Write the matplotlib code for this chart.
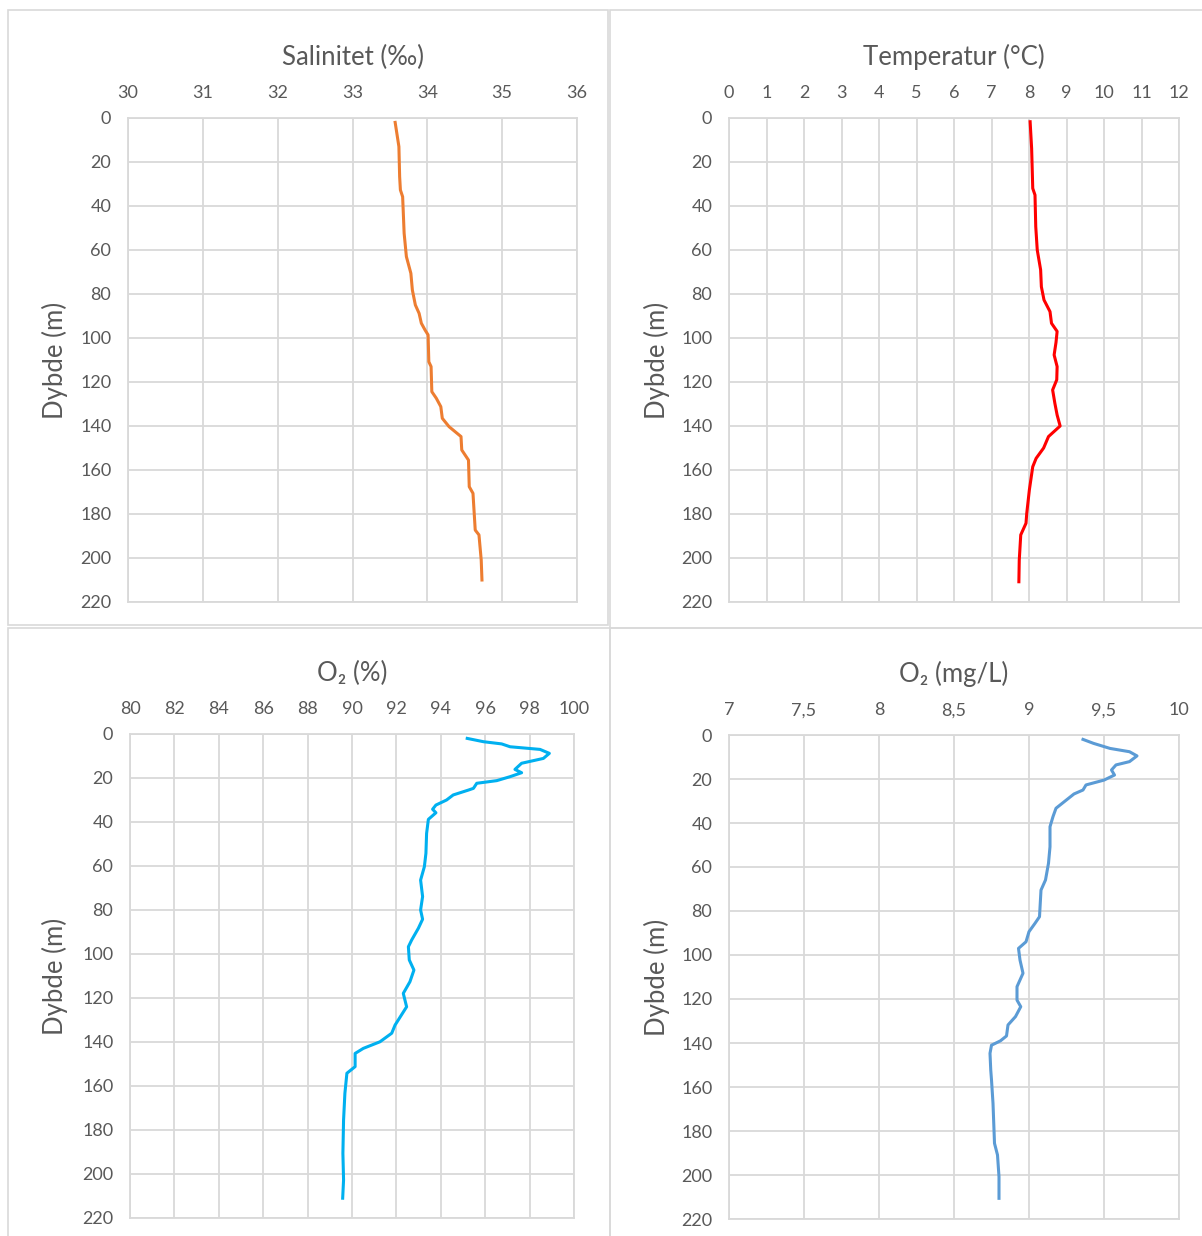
import matplotlib.pyplot as plt
from matplotlib.patches import Rectangle

plt.rcParams['font.family'] = ['Lato', 'DejaVu Sans']

# Salinitet (promille)
sal_depth = [2, 13, 26.7, 32.7, 35.8, 52.4, 63, 70.6, 78.2, 85, 88.8, 93.3, 96.4, 98.6,
             110.8, 113, 124.4, 127.4, 131.2, 136.5, 140.3, 144.8, 150.9, 155.5, 167.6,
             170.6, 187.3, 189.5, 200.9, 210]
sal_val = [33.57, 33.62, 33.63, 33.64, 33.67, 33.69, 33.72, 33.78, 33.80, 33.84, 33.89,
           33.92, 33.97, 34.01, 34.02, 34.05, 34.06, 34.12, 34.18, 34.20, 34.29, 34.45,
           34.46, 34.55, 34.56, 34.61, 34.64, 34.69, 34.72, 34.73]

# Temperatur (grader C)
temp_depth = [1.7, 13.8, 32, 35, 49.4, 60, 69, 76.7, 82.7, 88, 93.3, 97, 102, 107.7, 113,
              119, 123.6, 129.7, 135, 140, 144.8, 150, 154.7, 158.5, 169, 179.7, 184.2,
              189.5, 201, 210.8]
temp_val = [8.03, 8.07, 8.10, 8.16, 8.18, 8.22, 8.31, 8.33, 8.40, 8.56, 8.60, 8.75, 8.72,
            8.67, 8.75, 8.74, 8.63, 8.69, 8.75, 8.83, 8.52, 8.39, 8.19, 8.10, 8.01, 7.94,
            7.92, 7.78, 7.74, 7.73]

# O2 metning (%)
o2p_depth = [2, 3.5, 4.5, 5.8, 7, 8.8, 11.1, 13.3, 16.1, 17.6, 19.4, 21.2, 22.4, 24.7, 25.5,
             27.7, 30, 32.3, 34.2, 35.8, 38.8, 45.2, 54.2, 60.3, 66.4, 73.9, 80, 84.2, 88.3,
             93.6, 96.7, 102.7, 107.3, 112.6, 117.9, 124, 132.3, 136, 139.9, 142.9, 145.2,
             151.2, 154.2, 163.3, 175.5, 190.6, 202.7, 211]
o2p_val = [95.19, 95.92, 96.74, 97.12, 98.47, 98.89, 98.62, 97.64, 97.34, 97.64, 97.12,
           96.52, 95.62, 95.47, 95.24, 94.56, 94.26, 93.78, 93.63, 93.78, 93.44, 93.36,
           93.33, 93.26, 93.09, 93.18, 93.09, 93.18, 92.99, 92.69, 92.54, 92.58, 92.79,
           92.61, 92.31, 92.46, 91.94, 91.79, 91.26, 90.51, 90.14, 90.14, 89.77, 89.68,
           89.62, 89.59, 89.62, 89.58]

# O2 (mg/L)
o2m_depth = [2, 3.8, 6.1, 7.6, 9.5, 12.1, 13.6, 15.9, 18.2, 20.5, 22.7, 25, 26.8, 29.5,
             33.3, 37.1, 41.7, 50.8, 58.3, 65.9, 70.5, 82.6, 85.6, 89.4, 94, 97, 102.3,
             108.3, 114.4, 120.5, 123.5, 128, 131.8, 136.8, 139, 141, 144.7, 152.3, 156.8,
             167.4, 185.6, 190.9, 200.8, 210.6]
o2m_val = [9.36, 9.43, 9.54, 9.67, 9.72, 9.67, 9.58, 9.55, 9.57, 9.50, 9.38, 9.36, 9.30,
           9.25, 9.18, 9.16, 9.14, 9.14, 9.13, 9.11, 9.08, 9.07, 9.04, 9.00, 8.98, 8.93,
           8.94, 8.96, 8.92, 8.92, 8.945, 8.91, 8.86, 8.85, 8.81, 8.75, 8.74, 8.745, 8.75,
           8.76, 8.77, 8.79, 8.80, 8.80]

depth_ticks = list(range(0, 221, 20))

panels = [
    # title, depth, values, colour, xticks, xticklabels
    ('Salinitet (‰)', sal_depth, sal_val, '#ED7D31',
     [30, 31, 32, 33, 34, 35, 36], ['30', '31', '32', '33', '34', '35', '36']),
    ('Temperatur (°C)', temp_depth, temp_val, '#FF0000',
     list(range(0, 13)), [str(i) for i in range(0, 13)]),
    ('O₂ (%)', o2p_depth, o2p_val, '#00B0F0',
     list(range(80, 101, 2)), [str(i) for i in range(80, 101, 2)]),
    ('O₂ (mg/L)', o2m_depth, o2m_val, '#5B9BD5',
     [7, 7.5, 8, 8.5, 9, 9.5, 10], ['7', '7,5', '8', '8,5', '9', '9,5', '10']),
]

W, H = 1202, 1236
fig = plt.figure(figsize=(W / 100, H / 100), dpi=100)

# plot area boxes in pixels: left, top, right, bottom
boxes = [(128, 118, 577, 602), (729, 118, 1179, 602),
         (130, 734, 574, 1218), (729, 735, 1179, 1219)]
# chart borders in pixels
frames = [(8, 10, 608, 625), (610, 10, 1210, 628),
          (8, 628, 610, 1245), (610, 628, 1210, 1245)]

grey = '#595959'
gridc = '#D9D9D9'

for (l, t, r, b) in frames:
    fig.patches.append(Rectangle((l / W, 1 - b / H), (r - l) / W, (b - t) / H,
                                 transform=fig.transFigure, fill=False,
                                 edgecolor='#D9D9D9', linewidth=1.2))

for (title, d, v, col, xt, xtl), (l, t, r, b), fr in zip(panels, boxes, frames):
    ax = fig.add_axes([l / W, 1 - b / H, (r - l) / W, (b - t) / H])
    ax.plot(v, d, color=col, linewidth=2.2, solid_joinstyle='round')
    ax.set_xlim(xt[0], xt[-1])
    ax.set_ylim(220, 0)
    ax.set_xticks(xt)
    ax.set_xticklabels(xtl)
    ax.set_yticks(depth_ticks)
    ax.xaxis.tick_top()
    ax.tick_params(length=0, labelsize=13, labelcolor=grey)
    ax.tick_params(axis='x', pad=12)
    ax.tick_params(axis='y', pad=12)
    ax.grid(True, color=gridc, linewidth=1.3)
    ax.set_axisbelow(True)
    for s in ax.spines.values():
        s.set_color(gridc)
        s.set_linewidth(1.3)
    ax.text(0.5, (b - (t - 61)) / (b - t), title, transform=ax.transAxes,
            ha='center', va='center', fontsize=18.5, color=grey)
    ax.text((fr[0] + 47 - l) / (r - l), 0.5, 'Dybde (m)', transform=ax.transAxes,
            rotation=90, ha='center', va='center', fontsize=18.5, color=grey)

fig.savefig('out.png', dpi=100)
